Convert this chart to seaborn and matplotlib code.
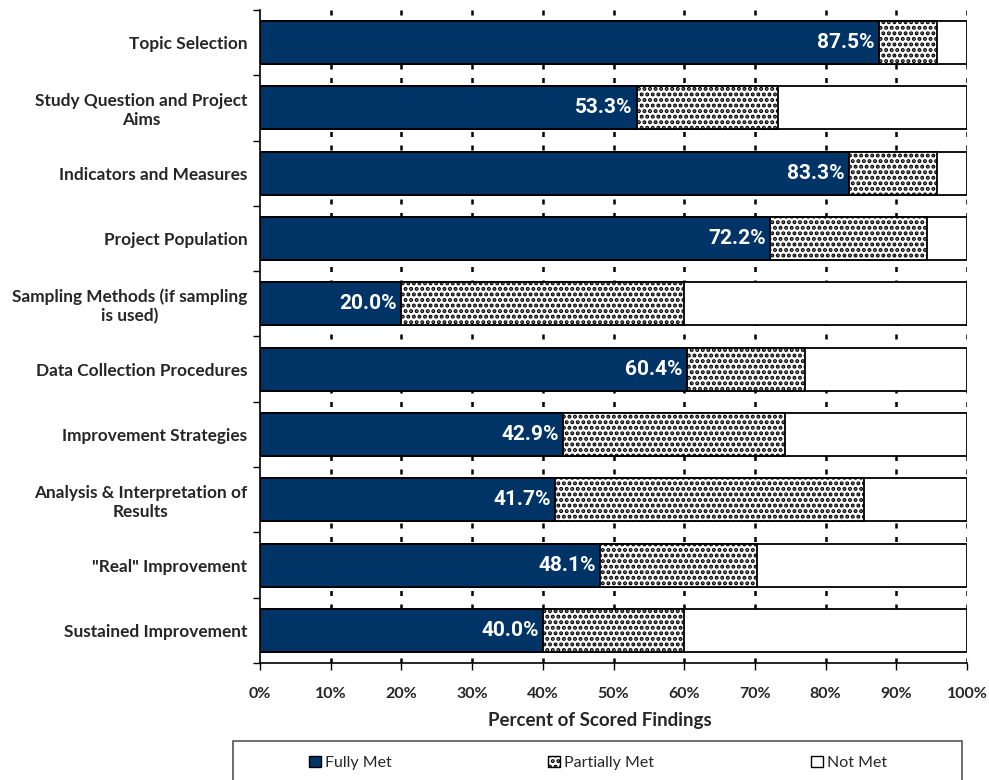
import matplotlib
matplotlib.use("Agg")
import matplotlib.pyplot as plt
from matplotlib.patches import Patch, Rectangle
import seaborn as sns
import pandas as pd
import numpy as np

categories = [
    "Topic Selection",
    "Study Question and Project\nAims",
    "Indicators and Measures",
    "Project Population",
    "Sampling Methods (if sampling\nis used)",
    "Data Collection Procedures",
    "Improvement Strategies",
    "Analysis & Interpretation of\nResults",
    "\"Real\" Improvement",
    "Sustained Improvement",
]
fully_met = [87.5, 53.3, 83.3, 72.2, 20.0, 60.4, 42.9, 41.7, 48.1, 40.0]
partially_met = [8.3, 20.0, 12.5, 22.2, 40.0, 16.7, 31.4, 43.8, 22.2, 20.0]
not_met = [4.2, 26.7, 4.2, 5.6, 40.0, 22.9, 25.7, 14.5, 29.7, 40.0]
x_ticks = [0, 10, 20, 30, 40, 50, 60, 70, 80, 90, 100]
x_tick_labels = ["0%", "10%", "20%", "30%", "40%", "50%", "60%", "70%", "80%", "90%", "100%"]
series_names = ["Fully Met", "Partially Met", "Not Met"]

NAVY = "#003366"
sns.set_theme(style="white")
plt.rcParams["font.family"] = ["Lato", "DejaVu Sans"]
plt.rcParams["hatch.color"] = "#444444"
plt.rcParams["hatch.linewidth"] = 2.0

df = pd.DataFrame({
    "category": categories,
    "full": fully_met,
    "partial": partially_met,
    "notmet": not_met,
})
df["cum_partial"] = df["full"] + df["partial"]
df["cum_total"] = df["cum_partial"] + df["notmet"]

fig = plt.figure(figsize=(9.89, 7.8), dpi=100)
ax = fig.add_axes([260 / 989, 1 - 663 / 780, (967 - 260) / 989, (663 - 10) / 780])

# gridlines behind the bars
for xv in x_ticks[1:]:
    ax.axvline(xv, color="black", lw=1.8, linestyle=(0, (2.0, 3.4)), zorder=0)

bw = 0.66
sns.barplot(data=df, y="category", x="cum_total", orient="h", color="white",
            edgecolor="black", linewidth=1.3, width=bw, ax=ax, zorder=2, saturation=1)
sns.barplot(data=df, y="category", x="cum_partial", orient="h", color="white",
            edgecolor="black", linewidth=1.3, width=bw, ax=ax, zorder=3, saturation=1,
            hatch="...")
sns.barplot(data=df, y="category", x="full", orient="h", color=NAVY,
            edgecolor="black", linewidth=1.3, width=bw, ax=ax, zorder=4, saturation=1)

for i, v in enumerate(fully_met):
    ax.text(v - 0.6, i, f"{v:.1f}%", ha="right", va="center", color="white",
            fontsize=15, fontweight="bold", zorder=5,
            family=["Roboto", "DejaVu Sans"])

ax.set_xlim(0, 100)
ax.set_ylim(len(categories) - 0.5, -0.5)
ax.set_xticks(x_ticks)
ax.set_xticklabels(x_tick_labels, fontsize=11.5, fontweight="bold")
ax.set_yticks(np.arange(len(categories)))
ax.set_yticklabels(categories, fontsize=12.4, fontweight="bold")
for lab in ax.get_yticklabels():
    lab.set_multialignment("center")
ax.set_ylabel("")
ax.set_xlabel("Percent of Scored Findings", fontsize=13.5, fontweight="bold")
ax.xaxis.set_label_coords((600 - 260) / 707, -(712 - 663) / 653)

# y boundary ticks
ax.set_yticks(np.arange(len(categories) + 1) - 0.5, minor=True)
ax.tick_params(axis="y", which="major", length=0, pad=9)
ax.tick_params(axis="y", which="minor", length=5, width=1, color="black", direction="out", left=True)
ax.tick_params(axis="x", which="major", length=5, width=1, color="black", direction="out",
               bottom=True, pad=12)

for s in ["top", "right"]:
    ax.spines[s].set_visible(False)
for s in ["left", "bottom"]:
    ax.spines[s].set_color("black")
    ax.spines[s].set_linewidth(1.2)

# legend with box
handles = [
    Patch(facecolor=NAVY, edgecolor="black", label=series_names[0]),
    Patch(facecolor="white", edgecolor="black", hatch="...", label=series_names[1]),
    Patch(facecolor="white", edgecolor="black", label=series_names[2]),
]
fig.legend(handles=handles, loc="center", bbox_to_anchor=(598 / 989, 1 - 763 / 780),
           ncol=3, frameon=False, fontsize=11.5, handlelength=0.75, handleheight=0.75,
           handletextpad=0.25, columnspacing=9.8)
fig.patches.append(Rectangle((233 / 989, -0.01), (962 - 233) / 989, 0.01 + (780 - 741) / 780,
                             transform=fig.transFigure, fill=False, edgecolor="#555555",
                             lw=1.2))

fig.savefig("out.png", dpi=100)
